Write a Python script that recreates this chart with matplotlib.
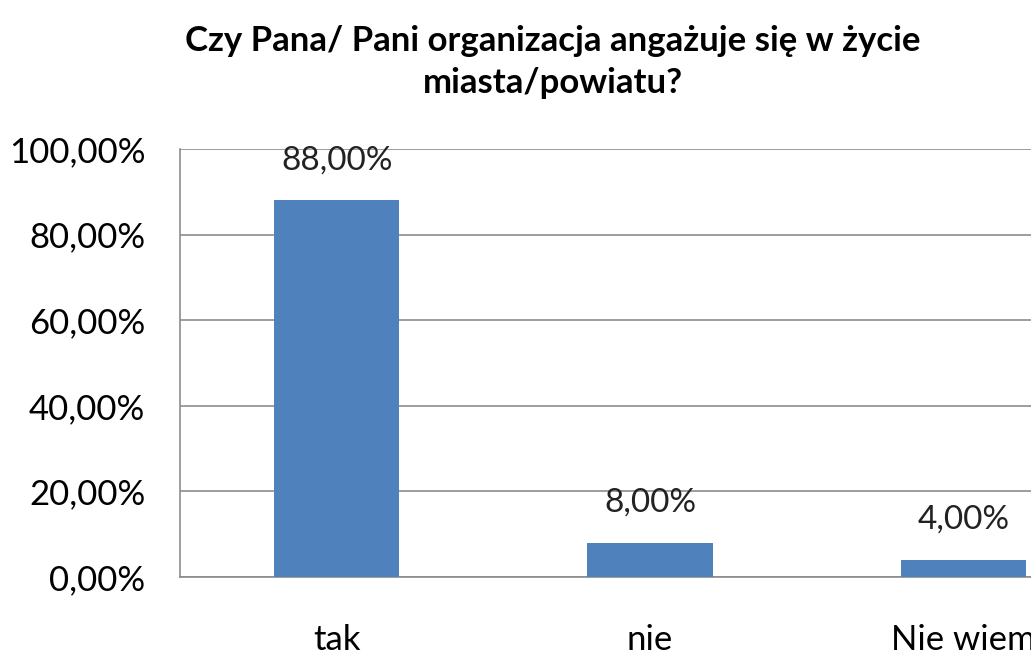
import matplotlib.pyplot as plt
import numpy as np

categories = ['tak', 'nie', 'Nie wiem']
values = [88.0, 8.0, 4.0]
title = 'Czy Pana/ Pani organizacja angażuje się w życie\nmiasta/powiatu?'

plt.rcParams['font.family'] = ['Lato', 'DejaVu Sans']

fig = plt.figure(figsize=(10.31, 6.57), dpi=100)
# the source image is cut off on the right, so the axes run past the figure edge
ax = fig.add_axes([180 / 1031, 1 - 577 / 657, 940 / 1031, 428 / 657])

x = np.arange(len(categories))
ax.bar(x, values, width=0.4, color='#4F81BD', zorder=3)

for xi, v in zip(x, values):
    ax.annotate(f'{v:.2f}%'.replace('.', ','), (xi, v), xytext=(0, 18),
                textcoords='offset points', ha='center', va='bottom',
                fontsize=24, color='#222222')

ax.set_xlim(-0.5, len(categories) - 0.5)
ax.set_ylim(0, 100)
yt = np.arange(0, 101, 20)
ax.set_yticks(yt)
ax.set_yticklabels([f'{t:.2f}%'.replace('.', ',') for t in yt], fontsize=25)
ax.set_xticks(x)
ax.set_xticklabels(categories, fontsize=25)
ax.tick_params(axis='x', length=0, pad=34)
ax.tick_params(axis='y', length=0, pad=25)

ax.grid(axis='y', color='#8c8c8c', linewidth=1.2, zorder=0)
for s in ['top', 'right']:
    ax.spines[s].set_visible(False)
ax.spines['left'].set_color('#8c8c8c')
ax.spines['bottom'].set_color('#8c8c8c')
ax.spines['left'].set_linewidth(1.2)
ax.spines['bottom'].set_linewidth(1.2)

fig.text(553 / 1031, 1 - 62 / 657, title, ha='center', va='center',
         fontsize=25, fontweight='bold', linespacing=1.35)

fig.savefig('out.png', dpi=100)
